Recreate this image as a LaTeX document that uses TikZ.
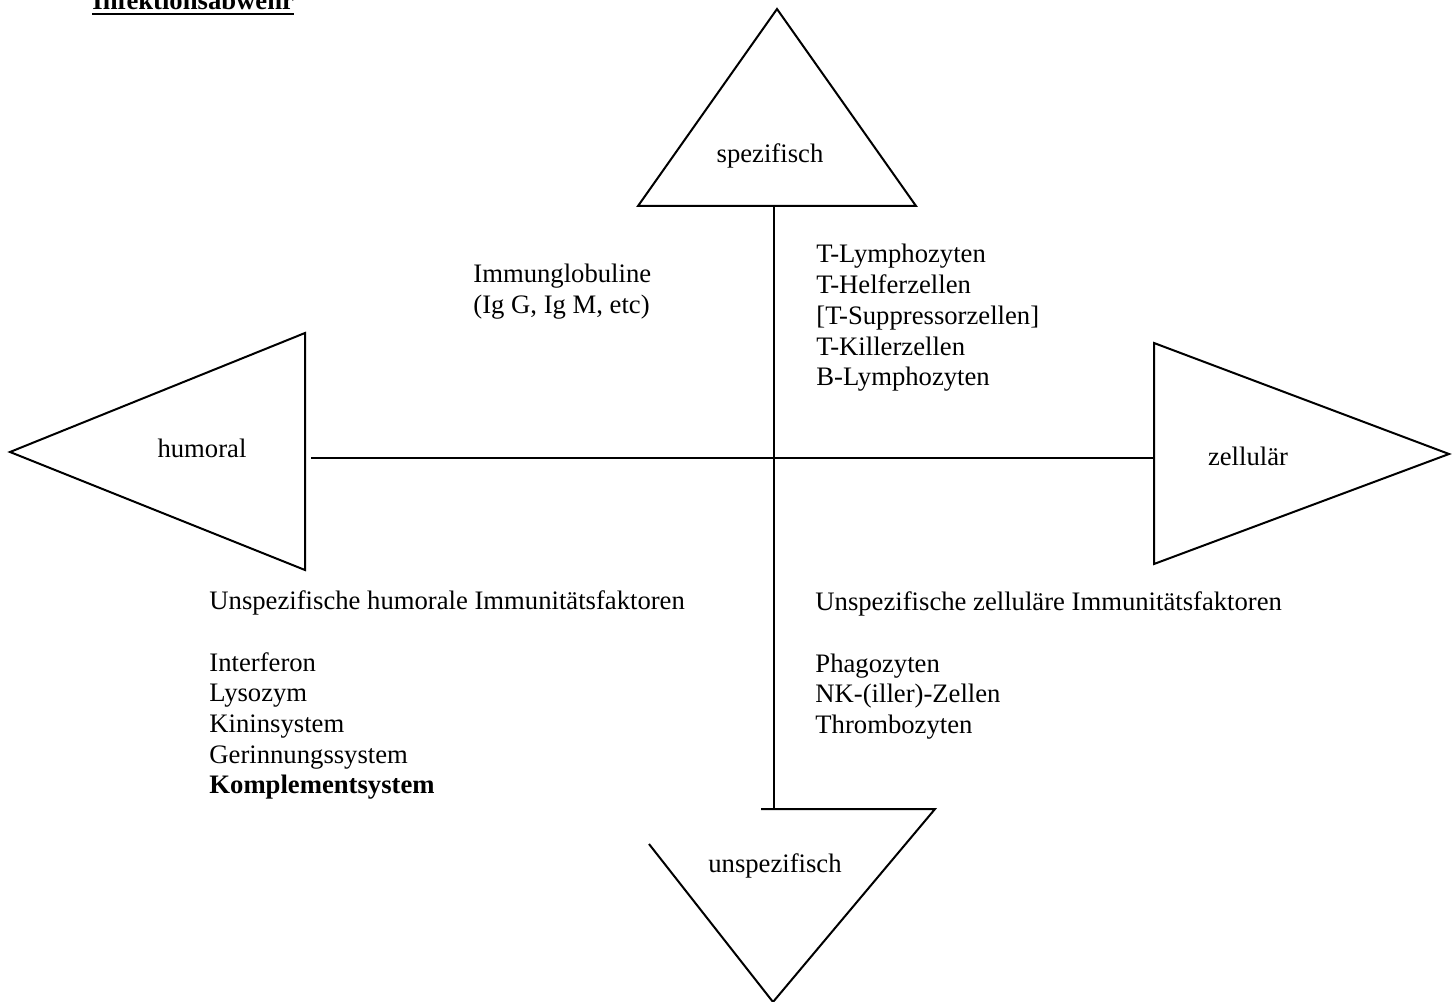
\documentclass[tikz,border=0pt]{standalone}
\usepackage{fontspec}
\setmainfont{Liberation Serif}
\begin{document}
\begin{tikzpicture}[x=0.45pt,y=-0.45pt,
  shapeline/.style={draw=black,line width=0.9pt,line join=miter},
  axisline/.style={draw=black,line width=0.9pt},
  bodytext/.style={font=\fontsize{12}{13.8}\selectfont,inner sep=0pt,anchor=base west},
  trilabel/.style={font=\fontsize{12}{13.8}\selectfont,inner sep=0pt,anchor=base}]
\useasboundingbox (0,0) rectangle (1455,1002);
\clip (0,0) rectangle (1455,1002);

% heading
\node[bodytext,font=\fontsize{12}{13.8}\selectfont\bfseries] (title) at (92,10) {Infektionsabwehr};
\draw[line width=0.9pt] ([yshift=-1.9pt]title.base west) -- ([yshift=-1.9pt]title.base east);

% triangle "spezifisch" (top)
\coordinate (sL) at (638,206);
\coordinate (sT) at (777,9);
\coordinate (sR) at (916,206);
\draw[shapeline] (sL) -- (sT) -- (sR) -- cycle;
\node[trilabel] (spez) at (770,163) {spezifisch};

% triangle "humoral" (left)
\coordinate (hT) at (305,333);
\coordinate (hA) at (10,452);
\coordinate (hB) at (305,570);
\draw[shapeline] (hT) -- (hA) -- (hB) -- cycle;
\node[trilabel] (hum) at (202,457) {humoral};

% triangle "zellulär" (right)
\coordinate (zT) at (1154,343);
\coordinate (zA) at (1449,454);
\coordinate (zB) at (1154,564);
\draw[shapeline] (zT) -- (zA) -- (zB) -- cycle;
\node[trilabel] (zell) at (1248,465) {zellulär};

% triangle "unspezifisch" (bottom, left edge broken off)
\coordinate (uL) at (761,809);
\coordinate (uR) at (935,809);
\coordinate (uA) at (773,1002);
\coordinate (uE) at (649,844);
\draw[shapeline] (uL) -- (uR) -- (uA) -- (uE);
\node[trilabel] (unspez) at (775,872) {unspezifisch};

% axes
\coordinate (vTop) at (774,206);
\coordinate (vBot) at (774,809);
\coordinate (hLeft) at (311,458);
\coordinate (hRight) at (1154,458);
\draw[axisline] (vTop) -- (vBot);
\draw[axisline] (hLeft) -- (hRight);

% specific humoral
\node[bodytext] (ig1) at (473,283) {Immunglobuline};
\node[bodytext] (ig2) at (473,313.7) {(Ig G, Ig M, etc)};

% specific cellular
\foreach \t [count=\i] in {T-Lymphozyten,T-Helferzellen,{[T-Suppressorzellen]},T-Killerzellen,B-Lymphozyten}
  \node[bodytext] (sc\i) at (816,{263+30.7*(\i-1)}) {\t};

% unspecific humoral
\node[bodytext] (uhHead) at (209,609) {Unspezifische humorale Immunitätsfaktoren};
\foreach \t [count=\i] in {Interferon,Lysozym,Kininsystem,Gerinnungssystem}
  \node[bodytext] (uh\i) at (209,{671+30.7*(\i-1)}) {\t};
\node[bodytext,font=\fontsize{12}{13.8}\selectfont\bfseries] (uh5) at (209,793.8) {Komplementsystem};

% unspecific cellular
\node[bodytext] (ucHead) at (815,610) {Unspezifische zelluläre Immunitätsfaktoren};
\foreach \t [count=\i] in {Phagozyten,NK-(iller)-Zellen,Thrombozyten}
  \node[bodytext] (uc\i) at (815,{672+30.7*(\i-1)}) {\t};
\end{tikzpicture}
\end{document}
